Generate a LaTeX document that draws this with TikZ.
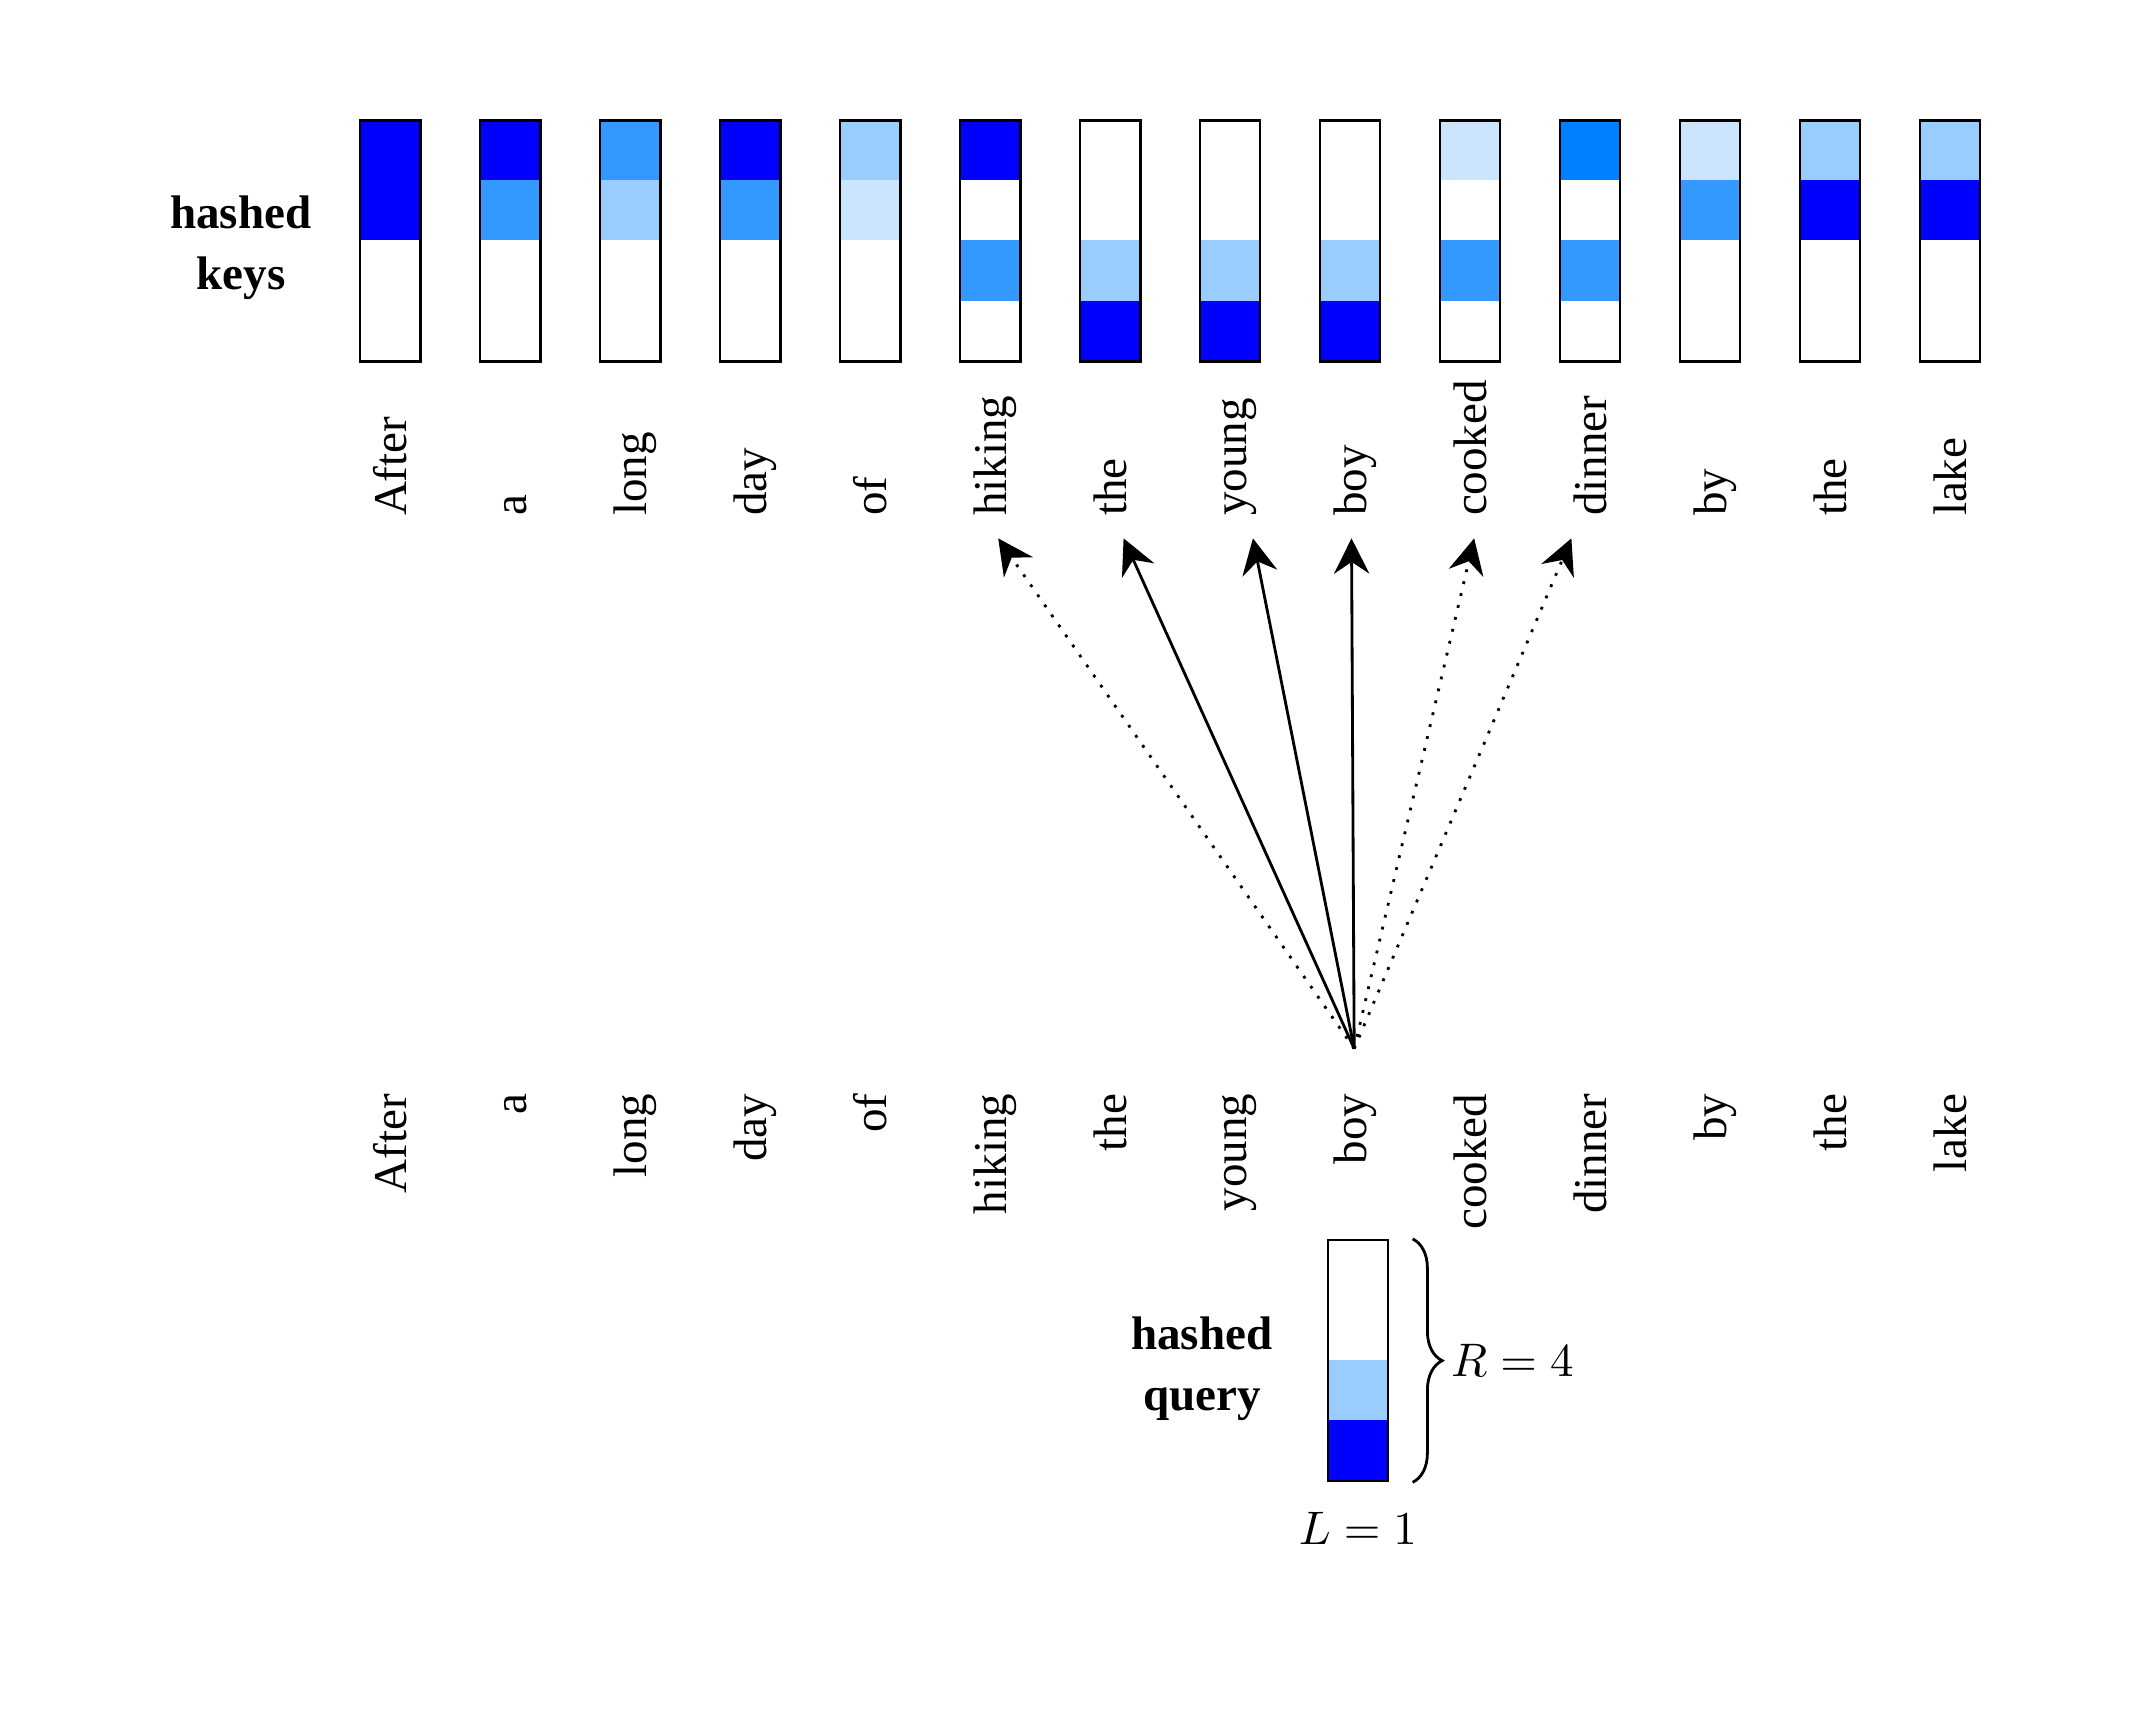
\documentclass[tikz,border=0pt]{standalone}
\usepackage{fontspec}
\setmainfont{Liberation Serif}
\usepackage{tikz}
\usetikzlibrary{positioning,arrows.meta,decorations.pathreplacing}
\definecolor{hashD}{RGB}{0,0,255}
\definecolor{hashC}{RGB}{0,128,255}
\definecolor{hashB}{RGB}{51,153,255}
\definecolor{hashA}{RGB}{153,204,255}
\definecolor{hashZ}{RGB}{204,229,255}
\tikzset{
  cellbox/.style={ minimum width=4.5mm, minimum height=4.6mm, inner sep=0, outer sep=0, draw=none }
}
\tikzset{
  hashbar/.style={ draw, line width=0.5pt, minimum width=4.5mm, minimum height=18mm, inner sep=0 }
}
\tikzset{
  tokword/.style={ rotate=90, inner sep=0, text height=0.68em, text depth=0pt }
}
\tikzset{
  hashlabel/.style={ font=\bfseries, align=center }
}

\begin{document}
\begin{tikzpicture}
  \useasboundingbox (0,0) rectangle (15.92,-12.78);

  \foreach \w/\ca/\cb/\cc/\cd [count=\i from 0] in {
      After/hashD/hashD/white/white, a/hashD/hashB/white/white,
      long/hashB/hashA/white/white, day/hashD/hashB/white/white,
      of/hashA/hashZ/white/white, hiking/hashD/white/hashB/white,
      the/white/white/hashA/hashD, young/white/white/hashA/hashD,
      boy/white/white/hashA/hashD, cooked/hashZ/white/hashB/white,
      dinner/hashC/white/hashB/white, by/hashZ/hashB/white/white,
      the/hashA/hashD/white/white, lake/hashA/hashD/white/white} {
    \foreach \c [count=\j from 0] in {\ca,\cb,\cc,\cd}
      \node[cellbox, fill=\c] (cell\i-\j) at (2.914+0.896*\i, -1.125-0.45*\j) {};
    \node[hashbar] (key\i) at (2.914+0.896*\i, -1.8) {};
    \node[tokword, anchor=west] (kw\i) at (2.914+0.896*\i, -3.86) {\w};
    \node[tokword, anchor=east] (qw\i) at (2.914+0.896*\i, -8.16) {\w};
  }
  \node[hashlabel, left=2.3mm of key0, yshift=-0.5mm] (keylbl) {hashed\\[1pt]keys};

  \foreach \c [count=\j from 0] in {white,white,hashA,hashD}
    \node[cellbox, fill=\c] (qcell\j) at (10.14, -9.485-0.45*\j) {};
  \node[hashbar] (qbar) at (10.14, -10.16) {};
  \node[hashlabel, left=2.8mm of qbar, yshift=-0.6mm] (qlbl) {hashed\\[1pt]query};
  \node[below=1mm of qbar] (Llbl) {$L=1$};
  \draw[decorate, decoration={brace, amplitude=2.2mm}, line width=0.6pt]
    ([xshift=1.75mm]qbar.north east) -- ([xshift=1.75mm]qbar.south east)
    node[midway, right=1.6mm] (Rlbl) {$R=4$};

  \coordinate (src) at ([xshift=0.3mm, yshift=3.3mm]qw8.east);
  \begin{scope}[-{Stealth[length=7.5pt, width=7.5pt, inset=2.5pt]}, line width=0.6pt]
    \draw[dotted] (src) -- ([xshift=0.6mm, yshift=-1.6mm]kw5.west);
    \draw (src) -- ([xshift=1mm, yshift=-1.6mm]kw6.west);
    \draw (src) -- ([xshift=1.7mm, yshift=-1.6mm]kw7.west);
    \draw (src) -- ([xshift=0.1mm, yshift=-1.6mm]kw8.west);
    \draw[dotted] (src) -- ([xshift=0.3mm, yshift=-1.6mm]kw9.west);
    \draw[dotted] (src) -- ([xshift=-1.4mm, yshift=-1.6mm]kw10.west);
  \end{scope}
\end{tikzpicture}
\end{document}
